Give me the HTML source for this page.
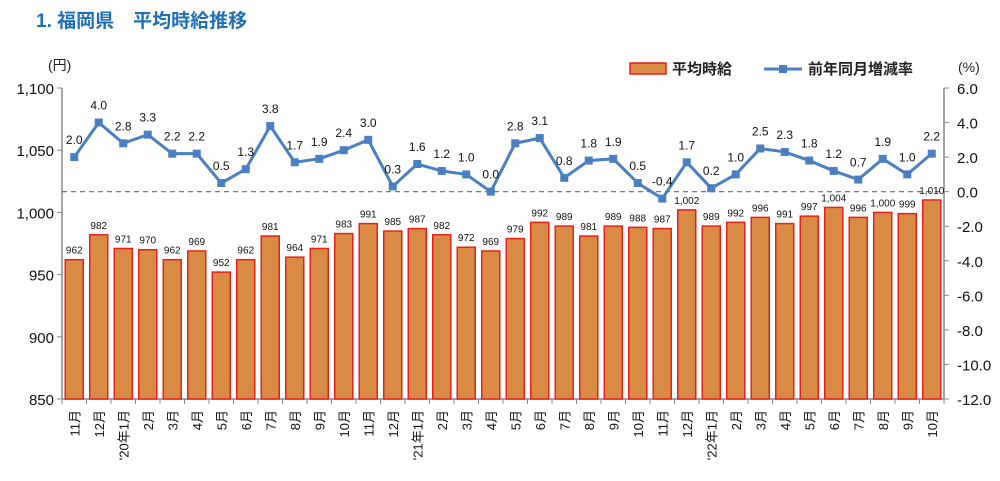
<!DOCTYPE html>
<html><head><meta charset="utf-8"><style>
body{margin:0;background:#fff;width:1000px;height:476px;overflow:hidden;font-family:"Liberation Sans","Noto Sans CJK JP",sans-serif}
</style></head><body>
<svg width="1000" height="476" xmlns="http://www.w3.org/2000/svg" font-family="Liberation Sans, Noto Sans CJK JP, sans-serif">
<text x="36" y="27" font-size="19" font-weight="bold" fill="#1f6fb5">1.  福岡県　平均時給推移</text>
<text x="48" y="70" font-size="14" fill="#222">(円)</text>
<text x="958" y="72" font-size="14" fill="#222">(%)</text>
<g>
<rect x="630" y="63" width="36" height="11" fill="#d98b45" stroke="#e8201a" stroke-width="1.5"/>
<text x="672" y="74" font-size="15" font-weight="bold" fill="#222">平均時給</text>
<line x1="764" y1="69" x2="802" y2="69" stroke="#4a7fc1" stroke-width="3"/>
<rect x="779" y="65" width="8" height="8" fill="#4a7fc1"/>
<text x="808" y="74" font-size="15" font-weight="bold" fill="#222">前年同月増減率</text>
</g>
<g id="plot"></g>
</svg>
<script>
const categories=["11月","12月","'20年1月","2月","3月","4月","5月","6月","7月","8月","9月","10月","11月","12月","'21年1月","2月","3月","4月","5月","6月","7月","8月","9月","10月","11月","12月","'22年1月","2月","3月","4月","5月","6月","7月","8月","9月","10月"];
const wages=[962,982,971,970,962,969,952,962,981,964,971,983,991,985,987,982,972,969,979,992,989,981,989,988,987,1002,989,992,996,991,997,1004,996,1000,999,1010];
const rates=[2.0,4.0,2.8,3.3,2.2,2.2,0.5,1.3,3.8,1.7,1.9,2.4,3.0,0.3,1.6,1.2,1.0,0.0,2.8,3.1,0.8,1.8,1.9,0.5,-0.4,1.7,0.2,1.0,2.5,2.3,1.8,1.2,0.7,1.9,1.0,2.2];
const leftTicks=[850,900,950,1000,1050,1100];
const rightTicks=[-12,-10,-8,-6,-4,-2,0,2,4,6];
const L=62,R=944,T=88,B=399;
const n=categories.length,cw=(R-L)/n;
const xc=i=>L+cw*(i+0.5);
const yl=v=>B-(v-850)/(1100-850)*(B-T);
const yr=v=>B-(v+12)/18*(B-T);
const g=document.getElementById('plot');
const NS="http://www.w3.org/2000/svg";
function mk(t,a){const e=document.createElementNS(NS,t);for(const k in a)e.setAttribute(k,a[k]);g.appendChild(e);return e;}
let e=mk('line',{x1:L,y1:T,x2:L,y2:B,stroke:'#888','stroke-width':1.5});


e=mk('line',{x1:R,y1:T,x2:R,y2:B,stroke:'#888','stroke-width':1.5});


e=mk('line',{x1:L,y1:B,x2:R,y2:B,stroke:'#888','stroke-width':1.5});


leftTicks.forEach(v=>{const y=yl(v);
mk('line',{x1:L-5,y1:y,x2:L,y2:y,stroke:'#888'});
e=mk('text',{x:L-8,y:y+6,'text-anchor':'end','font-size':15,fill:'#111'});e.textContent=v.toLocaleString('en-US');

});
rightTicks.forEach(v=>{const y=yr(v);
mk('line',{x1:R,y1:y,x2:R+5,y2:y,stroke:'#888'});
e=mk('text',{x:R+13,y:y+6,'font-size':15,fill:'#111'});e.textContent=v.toFixed(1);

});
for(let i=0;i<=n;i++){const x=L+cw*i;mk('line',{x1:x,y1:B,x2:x,y2:B+5,stroke:'#888'});}
e=mk('line',{x1:L,y1:yr(0),x2:R,y2:yr(0),stroke:'#666','stroke-width':1.2,'stroke-dasharray':'5,4'});


wages.forEach((v,i)=>{const bw=18;
e=mk('rect',{x:xc(i)-bw/2,y:yl(v),width:bw,height:B-yl(v),fill:'#d98b45',stroke:'#e8201a','stroke-width':1.5});


e=mk('text',{x:xc(i),y:yl(v)-6,'text-anchor':'middle','font-size':10,fill:'#111'});e.textContent=v.toLocaleString('en-US');


e=mk('text',{transform:`translate(${xc(i)+5},410) rotate(-90)`,'text-anchor':'end','font-size':13,fill:'#111'});e.textContent=categories[i];

});
e=mk('polyline',{points:rates.map((v,i)=>xc(i)+','+yr(v)).join(' '),fill:'none',stroke:'#4a7fc1','stroke-width':3});


rates.forEach((v,i)=>{
e=mk('rect',{x:xc(i)-4,y:yr(v)-4,width:8,height:8,fill:'#4a7fc1'});


e=mk('text',{x:xc(i),y:yr(v)-13,'text-anchor':'middle','font-size':12,fill:'#111'});e.textContent=v.toFixed(1);

});
</script>
</body></html>
